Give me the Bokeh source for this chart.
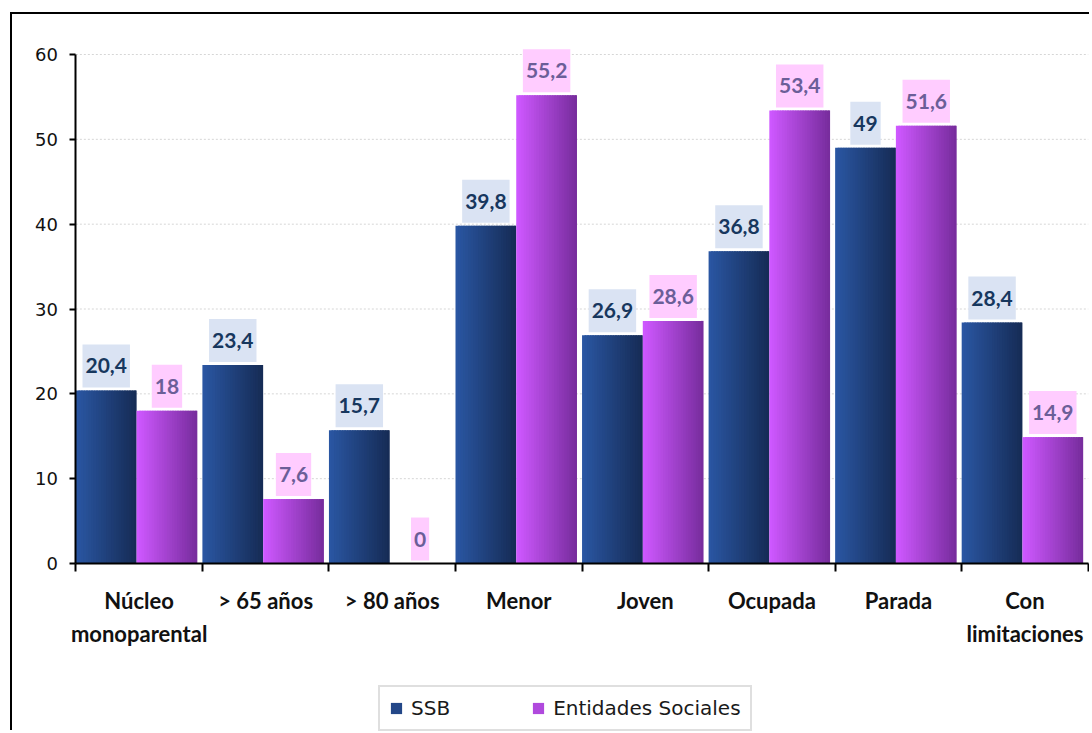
from bokeh.plotting import figure
from bokeh.models import (ColumnDataSource, FixedTicker, Legend, LegendItem, Range1d,
                          LinearAxis)
from bokeh.core.properties import value
from bokeh.embed import file_html
from bokeh.resources import INLINE

# ---------------- data ----------------
categories = ["Núcleo\nmonoparental", "> 65 años", "> 80 años", "Menor",
              "Joven", "Ocupada", "Parada", "Con\nlimitaciones"]
ssb = [20.4, 23.4, 15.7, 39.8, 26.9, 36.8, 49, 28.4]
entidades = [18, 7.6, 0, 55.2, 28.6, 53.4, 51.6, 14.9]
series_names = ["SSB", "Entidades Sociales"]
y_ticks = [0, 10, 20, 30, 40, 50, 60]


def fmt(v):
    return f"{v:g}".replace(".", ",")


n_cat = len(categories)

# ---------------- figure ----------------
# the frame is extended left and below so that axis labels and legend sit inside it
p = figure(width=1079, height=718, x_range=Range1d(-0.39, n_cat + 0.01), y_range=Range1d(-19.8, 61.65),
           output_backend="svg", toolbar_location=None,
           x_axis_type=None, y_axis_type=None,
           min_border_left=14, min_border_right=2, min_border_top=26, min_border_bottom=1)
p.outline_line_color = None
p.background_fill_color = "white"
p.border_fill_color = "white"
p.styles = {"margin-left": "10px", "margin-top": "12px",
            "border-left": "2px solid black", "border-top": "2px solid black"}

# horizontal grid lines (only across the plot area)
p.segment(x0=[0] * (len(y_ticks) - 1), x1=[n_cat] * (len(y_ticks) - 1),
          y0=y_ticks[1:], y1=y_ticks[1:], line_color="#d6d6d6", line_dash="2 2", line_width=1)

# y axis at x = 0
yaxis = LinearAxis(ticker=FixedTicker(ticks=y_ticks), bounds=(0, 60), fixed_location=0)
yaxis.axis_line_width = 2
yaxis.axis_line_color = "black"
yaxis.major_tick_out = 6
yaxis.major_tick_in = 0
yaxis.major_tick_line_width = 2
yaxis.minor_tick_line_color = None
yaxis.major_label_text_font = "DejaVu Sans"
yaxis.major_label_text_font_size = "18px"
yaxis.major_label_text_color = "#111111"
yaxis.major_label_standoff = 12
p.add_layout(yaxis, "left")

# x axis at y = 0: labels centred in categories, ticks at category boundaries
centers = [i + 0.5 for i in range(n_cat)]
xaxis = LinearAxis(ticker=FixedTicker(ticks=centers, minor_ticks=list(range(n_cat + 1))),
                   fixed_location=0, bounds=(0, n_cat))
xaxis.major_label_overrides = {c: lab for c, lab in zip(centers, categories)}
xaxis.axis_line_width = 2
xaxis.axis_line_color = "black"
xaxis.major_tick_line_color = None
xaxis.major_tick_out = 0
xaxis.major_tick_in = 0
xaxis.minor_tick_out = 8
xaxis.minor_tick_in = 0
xaxis.minor_tick_line_width = 2
xaxis.minor_tick_line_color = "black"
xaxis.major_label_text_font = "Lato"
xaxis.major_label_text_font_style = "bold"
xaxis.major_label_text_font_size = "22px"
xaxis.major_label_text_color = "#111111"
xaxis.major_label_text_line_height = 1.25
xaxis.major_label_standoff = 15
p.add_layout(xaxis, "below")

# ---------------- bars (horizontal gradient via overlapping strips) ----------------
N = 24
bar_w = 0.48
starts = [0.0, 0.48]
grads = [((42, 86, 162), (22, 44, 86)), ((206, 88, 255), (120, 45, 158))]
series_vals = [ssb, entidades]


def lerp(c1, c2, t):
    return "#%02x%02x%02x" % tuple(int(round(a + (b - a) * t)) for a, b in zip(c1, c2))


sw = bar_w / N
renderers = []
for s, vals in enumerate(series_vals):
    rs = []
    for k in range(N):
        t = k / (N - 1)
        col = lerp(grads[s][0], grads[s][1], t)
        lefts = [i + starts[s] + k * sw for i in range(len(vals))]
        rights = [min(i + starts[s] + (k + 1.8) * sw, i + starts[s] + bar_w) for i in range(len(vals))]
        r = p.quad(left=lefts, right=rights, top=vals, bottom=0,
                   fill_color=col, line_color=None)
        rs.append(r)
    renderers.append(rs)

# ---------------- data labels ----------------
label_styles = [("#17375e", "#dae3f3"), ("#6b5e98", "#ffccff")]
for s, vals in enumerate(series_vals):
    src = ColumnDataSource(dict(
        x=[i + starts[s] + bar_w / 2 for i in range(len(vals))],
        y=vals,
        text=[fmt(v) for v in vals]))
    p.text(x="x", y="y", text="text", source=src,
           text_font=value("Lato"), text_font_style="bold", text_font_size="21px",
           text_color=label_styles[s][0], text_align="center", text_baseline="bottom",
           background_fill_color=label_styles[s][1],
           padding=(3, 14), y_offset=-3)

# ---------------- legend ----------------
legend = Legend(items=[LegendItem(label=series_names[0], renderers=[renderers[0][N // 3]]),
                       LegendItem(label=series_names[1], renderers=[renderers[1][N // 3]])],
                orientation="horizontal", location=(352, 0),
                glyph_width=14, glyph_height=14, label_standoff=8, spacing=81,
                padding=9, margin=0, label_height=20,
                border_line_color="#bfbfbf", border_line_width=2,
                background_fill_color="white", background_fill_alpha=1,
                label_text_font="DejaVu Sans", label_text_font_size="20px",
                label_text_color="#1a1a1a")
p.add_layout(legend, "center")

open("out.html", "w").write(file_html(p, INLINE))
